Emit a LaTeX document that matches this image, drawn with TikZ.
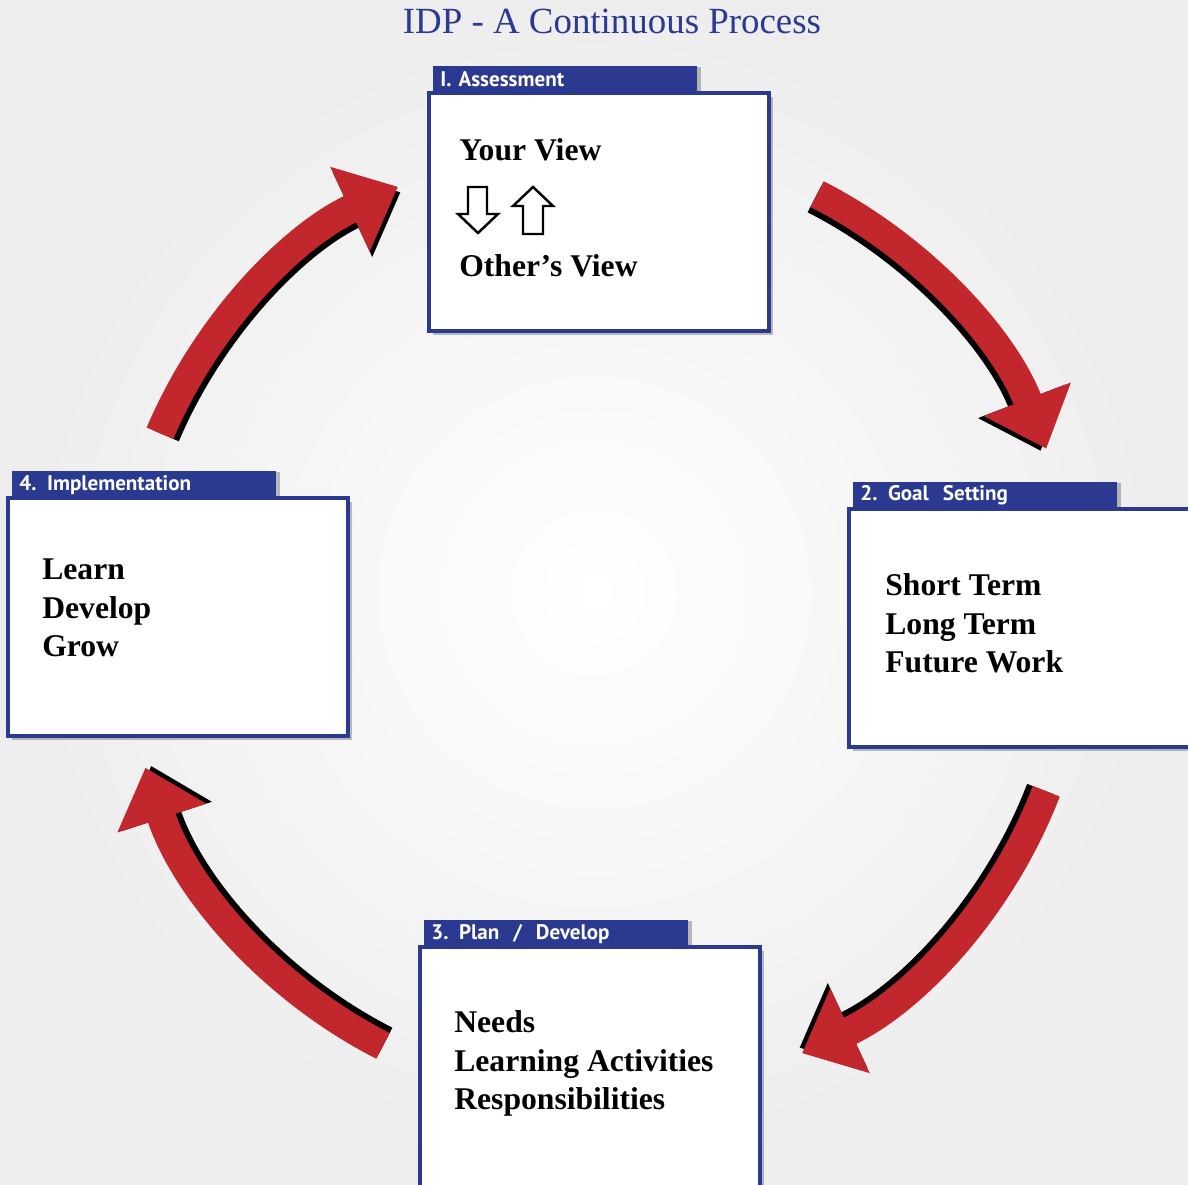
\documentclass[tikz,border=0pt]{standalone}
\usepackage{fontspec}
\setmainfont{Liberation Serif}
\newfontfamily\tabfont{PT Sans}
\usepackage{tikz}
\usetikzlibrary{calc,arrows.meta,shadows}
\definecolor{navy}{HTML}{2B3990}
\definecolor{loopred}{HTML}{C1272D}
\tikzset{
  card/.style={draw=navy, line width=2pt, fill=white, anchor=north west,
    minimum width=6.8cm, minimum height=4.76cm, inner sep=0pt, outer sep=0pt,
    drop shadow={shadow xshift=2.2pt, shadow yshift=-2.2pt, fill=black, opacity=0.25}},
  tab/.style={fill=navy, text=white, font=\tabfont\bfseries\fontsize{12}{14}\selectfont,
    anchor=south west, minimum width=5.28cm, minimum height=0.56cm,
    inner xsep=0.14cm, inner ysep=0pt, text width=5.0cm, align=left,
    drop shadow={shadow xshift=2.2pt, shadow yshift=-1pt, fill=black, opacity=0.25}},
  body/.style={font=\fontsize{18}{22.1}\selectfont\bfseries, align=left,
    anchor=base west, inner sep=0pt},
  hollow/.style={draw=black, line width=1.4pt, fill=white, line join=miter},
  shadowarc/.style={draw=black, line width=0.58cm,
    -{Triangle[length=1.06cm, width=1.8cm]}},
  looparc/.style={draw=loopred, line width=0.58cm,
    -{Triangle[length=1.06cm, width=1.8cm]}},
}

\begin{document}
\begin{tikzpicture}[x=0.02cm, y=-0.02cm]
  \useasboundingbox (0,0) rectangle (1188,1185);
  \clip (0,0) rectangle (1188,1185);
  \shade[inner color=white, outer color=black!7] (0,0) rectangle (1188,1185);

  \node[font=\fontsize{21}{25}\selectfont, text=navy] (title) at (612,21) {IDP - A Continuous Process};

  % the four stages, tab first so the card edge sits on it
  \node[tab] (assesstab) at (433,94) {I. Assessment};
  \node[card] (assess) at (429,93) {};

  \node[tab] (goaltab) at (853,510) {2. Goal\ \ Setting};
  \node[card, minimum width=6.9cm] (goal) at (849,509) {};

  \node[tab] (plantab) at (424,948) {3. Plan\ \ /\ \ Develop};
  \node[card, minimum height=4.84cm] (plan) at (420,947) {};

  \node[tab] (impltab) at (12,499) {4. Implementation};
  \node[card] (impl) at (8,498) {};

  \node[body] (yours) at ($(assess.north west)+(30,68)$) {Your View};
  \node[body] (others) at ($(assess.north west)+(30,184)$) {Other’s View};
  \draw[hollow] (468,187) -- (487,187) -- (487,214) -- (498,214) -- (478,233)
    -- (458,214) -- (468,214) -- cycle;
  \draw[hollow] (523,234) -- (543,234) -- (543,206) -- (553,206) -- (533,187)
    -- (513,206) -- (523,206) -- cycle;

  % base of a three line block is its last line
  \node[body] (goallist) at ($(goal.north west)+(36,164)$) {Short Term\\Long Term\\Future Work};
  \node[body] (planlist) at ($(plan.north west)+(34,163)$) {Needs\\Learning Activities\\Responsibilities};
  \node[body] (impllist) at ($(impl.north west)+(34,159)$) {Learn\\Develop\\Grow};

  % arrows round the cycle
  \coordinate (hub) at (600,620);
  \draw[shadowarc] ([shift={(-63:472)}]hub) arc[start angle=-63, end angle=-21, radius=472];
  \draw[looparc] ([shift={(-63:478)}]hub) arc[start angle=-63, end angle=-21, radius=478];
  \draw[shadowarc] ([shift={(21:472)}]hub) arc[start angle=21, end angle=65, radius=472];
  \draw[looparc] ([shift={(21:478)}]hub) arc[start angle=21, end angle=65, radius=478];
  \draw[shadowarc] ([shift={(117:472)}]hub) arc[start angle=117, end angle=162, radius=472];
  \draw[looparc] ([shift={(117:478)}]hub) arc[start angle=117, end angle=162, radius=478];
  \draw[shadowarc] ([shift={(203:472)}]hub) arc[start angle=203, end angle=245, radius=472];
  \draw[looparc] ([shift={(203:478)}]hub) arc[start angle=203, end angle=245, radius=478];
\end{tikzpicture}
\end{document}
